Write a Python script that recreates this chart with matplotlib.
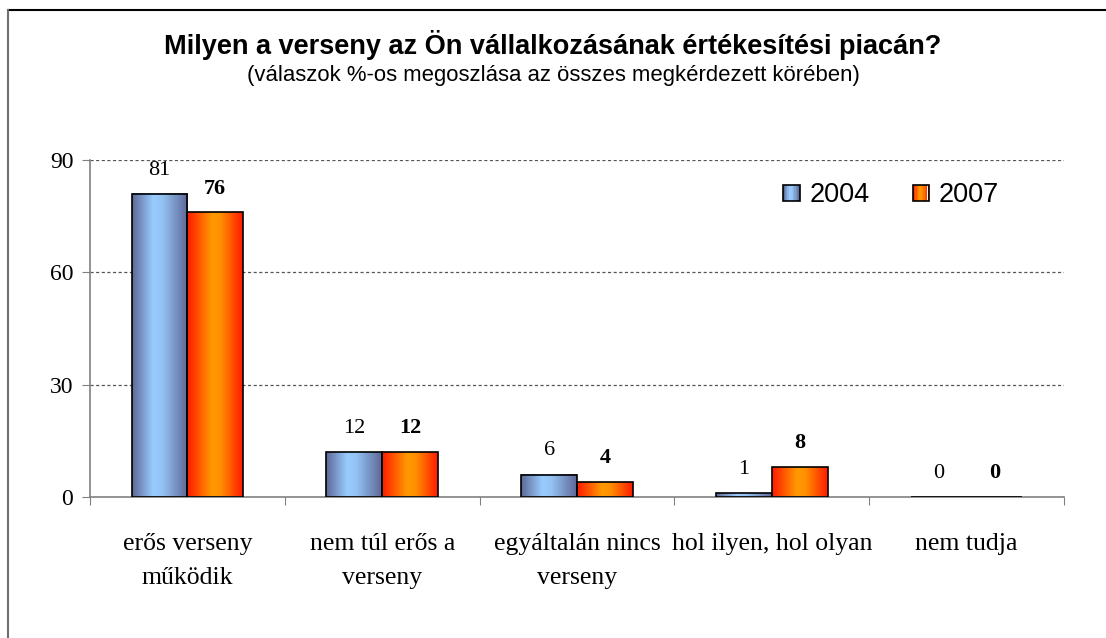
import numpy as np
import matplotlib
matplotlib.use("Agg")
import matplotlib.pyplot as plt
from matplotlib.colors import LinearSegmentedColormap
from matplotlib.lines import Line2D
from matplotlib.patches import Rectangle
from matplotlib.legend_handler import HandlerBase

categories = ["erős verseny\nműködik", "nem túl erős a\nverseny", "egyáltalán nincs\nverseny",
              "hol ilyen, hol olyan", "nem tudja"]
series_names = ["2004", "2007"]
values_2004 = [81, 12, 6, 1, 0]
values_2007 = [76, 12, 4, 8, 0]
yticks = [0, 30, 60, 90]

title = "Milyen a verseny az Ön vállalkozásának értékesítési piacán?"
subtitle = "(válaszok %-os megoszlása az összes megkérdezett körében)"

blue_cmap = LinearSegmentedColormap.from_list(
    "b", [(0, "#5E6796"), (0.38, "#99CCFF"), (0.55, "#92C2F2"), (1, "#5E6796")])
orange_cmap = LinearSegmentedColormap.from_list(
    "o", [(0, "#FF1A00"), (0.45, "#FF9900"), (0.6, "#FF9000"), (1, "#FF1A00")])
cmaps = [blue_cmap, orange_cmap]
grad = np.linspace(0, 1, 256).reshape(1, -1)

fig = plt.figure(figsize=(11.06, 6.38), dpi=100)
ax = fig.add_axes([90 / 1106, 1 - 497 / 638, (1064 - 90) / 1106, (497 - 160) / 638])

x = np.arange(len(categories))
w = 0.286
all_vals = [values_2004, values_2007]
for i, vals in enumerate(all_vals):
    offs = (i - 0.5) * w
    bars = ax.bar(x + offs, vals, w, facecolor="none", edgecolor="black", linewidth=1.2, zorder=3)
    for b, v in zip(bars, vals):
        x0, y0 = b.get_x(), b.get_y()
        bw, bh = b.get_width(), b.get_height()
        if bh > 0:
            ax.imshow(grad, cmap=cmaps[i], extent=(x0, x0 + bw, y0, y0 + bh),
                      aspect="auto", zorder=2, interpolation="bicubic")
        ax.annotate(str(v), (x0 + bw / 2, y0 + bh), xytext=(0, 17), textcoords="offset points",
                    ha="center", va="center", fontsize=16, family="Liberation Serif",
                    fontweight="bold" if i == 1 else "normal", zorder=4)

ax.set_xlim(-0.5, len(categories) - 0.5)
ax.set_ylim(0, 90)
ax.set_yticks(yticks)
ax.set_yticklabels([str(t) for t in yticks], family="Liberation Serif", fontsize=17)
for t in yticks[1:]:
    ax.axhline(t, color="#555555", linestyle=(0, (2.5, 2)), linewidth=0.9, zorder=1)

ax.set_xticks(np.arange(-0.5, len(categories), 1.0))
ax.set_xticklabels([])
ax.set_xticks(x, minor=True)
ax.set_xticklabels(categories, minor=True, family="Liberation Serif", fontsize=18.5, linespacing=1.72)
ax.tick_params(axis="x", which="minor", length=0, pad=26)
ax.tick_params(axis="x", which="major", length=6, direction="out", color="#808080")
ax.tick_params(axis="y", length=6, direction="out", color="#808080", pad=6)
for s in ["top", "right"]:
    ax.spines[s].set_visible(False)
ax.spines["left"].set_color("#808080")
ax.spines["bottom"].set_color("#808080")
ax.spines["left"].set_linewidth(1.2)
ax.spines["bottom"].set_linewidth(1.2)


class GradHandler(HandlerBase):
    def __init__(self, cmap):
        super().__init__()
        self.cmap = cmap

    def create_artists(self, legend, orig_handle, xdescent, ydescent, width, height, fontsize, trans):
        arts = []
        n = 12
        s = min(width, height)
        x0 = -xdescent + (width - s) / 2
        y0 = -ydescent
        for k in range(n):
            r = Rectangle((x0 + s * k / n, y0), s / n, s, facecolor=self.cmap((k + 0.5) / n),
                          edgecolor="none", transform=trans)
            arts.append(r)
        arts.append(Rectangle((x0, y0), s, s, facecolor="none", edgecolor="black",
                              linewidth=1.2, transform=trans))
        return arts


h1 = Rectangle((0, 0), 1, 1)
h2 = Rectangle((0, 0), 1, 1)
leg = ax.legend([h1, h2], series_names, handler_map={h1: GradHandler(blue_cmap), h2: GradHandler(orange_cmap)},
                loc="center", bbox_to_anchor=((891 - 90) / 974, (497 - 195) / 337), ncol=2, frameon=False,
                prop={"family": "Liberation Sans", "size": 19.5}, handlelength=0.6, handleheight=0.6,
                handletextpad=0.35, columnspacing=1.6)

fig.text(553 / 1106, 1 - 45 / 638, title, ha="center", va="center", fontsize=19.5,
         fontweight="bold", family="Liberation Sans")
fig.text(553 / 1106, 1 - 75 / 638, subtitle, ha="center", va="center", fontsize=15.9,
         family="Liberation Sans")

fig.add_artist(Line2D([8 / 1106, 1], [1 - 10 / 638, 1 - 10 / 638], transform=fig.transFigure,
                      color="black", linewidth=1.5))
fig.add_artist(Line2D([8 / 1106, 8 / 1106], [1 - 10 / 638, 0], transform=fig.transFigure,
                      color="#707070", linewidth=1.5))

fig.savefig("out.png", dpi=100)
